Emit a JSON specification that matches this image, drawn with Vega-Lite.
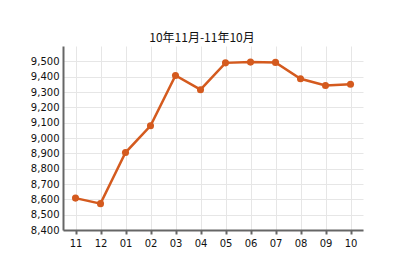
{
  "$schema": "https://vega.github.io/schema/vega-lite/v6.json",
  "autosize": {"type": "none"},
  "width": 300,
  "height": 184,
  "padding": {"left": 63, "top": 46, "right": 30, "bottom": 38},
  "background": "white",
  "title": {
    "text": "10年11月-11年10月",
    "anchor": "middle",
    "dx": -11,
    "offset": 1,
    "font": "Noto Sans CJK SC",
    "fontSize": 12,
    "fontWeight": "normal",
    "color": "#111"
  },
  "data": {
    "values": [
      {"month": "11", "price": 8608},
      {"month": "12", "price": 8572},
      {"month": "01", "price": 8905},
      {"month": "02", "price": 9080},
      {"month": "03", "price": 9408},
      {"month": "04", "price": 9315},
      {"month": "05", "price": 9490},
      {"month": "06", "price": 9495},
      {"month": "07", "price": 9493},
      {"month": "08", "price": 9386},
      {"month": "09", "price": 9342},
      {"month": "10", "price": 9351}
    ]
  },
  "config": {
    "view": {"stroke": null},
    "axis": {
      "labelFont": "DejaVu Sans",
      "labelFontSize": 10,
      "labelColor": "#111",
      "gridColor": "#e6e6e6",
      "gridWidth": 1,
      "domainColor": "#666",
      "domainWidth": 2,
      "tickColor": "#666",
      "title": null
    }
  },
  "encoding": {
    "x": {
      "field": "month",
      "type": "ordinal",
      "sort": null,
      "scale": {"type": "point", "padding": 0.5},
      "axis": {"labelAngle": 0, "grid": true, "ticks": true, "tickSize": 4, "tickWidth": 2, "labelPadding": 4}
    },
    "y": {
      "field": "price",
      "type": "quantitative",
      "scale": {"domain": [8400, 9600], "nice": false, "zero": false},
      "axis": {
        "values": [8400, 8500, 8600, 8700, 8800, 8900, 9000, 9100, 9200, 9300, 9400, 9500],
        "labelExpr": "format(datum.value, ',')",
        "ticks": false,
        "labelPadding": 4,
        "grid": true
      }
    }
  },
  "layer": [
    {"mark": {"type": "line", "color": "#d45a1e", "strokeWidth": 2.5}},
    {"mark": {"type": "point", "filled": true, "color": "#d45a1e", "size": 50, "opacity": 1}}
  ]
}
